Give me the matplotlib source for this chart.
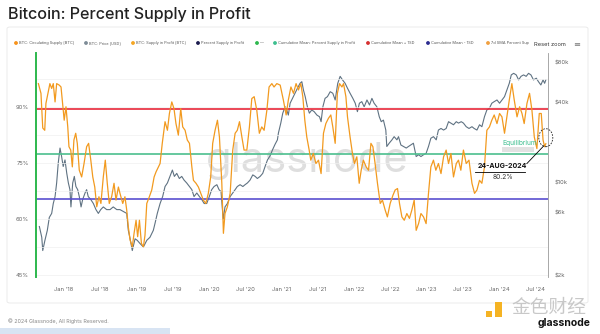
import numpy as np
import pandas as pd
import matplotlib
matplotlib.use("Agg")
import matplotlib.pyplot as plt
import matplotlib.dates as mdates
from matplotlib.patches import Ellipse, Rectangle, FancyBboxPatch
from matplotlib.transforms import IdentityTransform

plt.rcParams['font.family'] = ['Inter', 'DejaVu Sans']

# percent supply in profit (7d SMA), %
pct_dates = [
    "2017-08-25", "2017-09-07", "2017-09-16", "2017-09-26", "2017-10-02", "2017-10-14", "2017-10-22",
    "2017-10-31", "2017-11-08", "2017-11-17", "2017-11-25", "2017-12-08", "2017-12-17", "2017-12-25",
    "2018-01-02", "2018-01-11", "2018-01-20", "2018-01-26", "2018-02-04", "2018-02-12", "2018-02-20",
    "2018-03-01", "2018-03-09", "2018-03-19", "2018-03-31", "2018-04-12", "2018-04-25", "2018-05-05",
    "2018-05-16", "2018-05-26", "2018-06-05", "2018-06-15", "2018-06-26", "2018-07-06", "2018-07-18",
    "2018-07-28", "2018-08-07", "2018-08-17", "2018-08-29", "2018-09-10", "2018-09-20", "2018-10-02",
    "2018-10-10", "2018-10-24", "2018-11-04", "2018-11-13", "2018-11-21", "2018-11-30", "2018-12-11",
    "2018-12-20", "2018-12-30", "2019-01-07", "2019-01-16", "2019-01-26", "2019-02-05", "2019-02-13",
    "2019-02-22", "2019-03-07", "2019-03-19", "2019-03-31", "2019-04-10", "2019-04-30", "2019-05-11",
    "2019-05-25", "2019-06-06", "2019-06-16", "2019-06-28", "2019-07-09", "2019-07-19", "2019-07-31",
    "2019-08-12", "2019-08-22", "2019-09-03", "2019-09-14", "2019-09-25", "2019-10-07", "2019-10-15",
    "2019-10-28", "2019-11-09", "2019-11-21", "2019-12-04", "2019-12-16", "2019-12-29", "2020-01-10",
    "2020-01-20", "2020-02-01", "2020-02-13", "2020-02-23", "2020-03-06", "2020-03-14", "2020-03-22",
    "2020-04-03", "2020-04-17", "2020-04-30", "2020-05-12", "2020-05-23", "2020-06-03", "2020-06-15",
    "2020-06-26", "2020-07-10", "2020-07-23", "2020-08-04", "2020-08-16", "2020-08-29", "2020-09-11",
    "2020-09-23", "2020-10-05", "2020-10-19", "2020-10-30", "2020-11-13", "2020-11-24", "2020-12-08",
    "2020-12-25", "2021-01-10", "2021-01-24", "2021-02-04", "2021-02-17", "2021-03-02", "2021-03-15",
    "2021-03-27", "2021-04-08", "2021-04-18", "2021-04-28", "2021-05-08", "2021-05-20", "2021-05-28",
    "2021-06-10", "2021-06-23", "2021-07-06", "2021-07-19", "2021-07-31", "2021-08-12", "2021-08-25",
    "2021-09-06", "2021-09-16", "2021-09-28", "2021-10-09", "2021-10-20", "2021-11-01", "2021-11-09",
    "2021-11-21", "2021-11-29", "2021-12-12", "2021-12-24", "2022-01-03", "2022-01-15", "2022-01-27",
    "2022-02-06", "2022-02-17", "2022-03-03", "2022-03-15", "2022-03-27", "2022-04-06", "2022-04-17",
    "2022-04-29", "2022-05-13", "2022-05-24", "2022-06-07", "2022-06-18", "2022-07-02", "2022-07-16",
    "2022-07-27", "2022-08-08", "2022-08-18", "2022-08-30", "2022-09-11", "2022-09-24", "2022-10-07",
    "2022-10-19", "2022-10-31", "2022-11-10", "2022-11-22", "2022-12-04", "2022-12-17", "2022-12-30",
    "2023-01-11", "2023-01-23", "2023-02-05", "2023-02-17", "2023-03-02", "2023-03-15", "2023-03-28",
    "2023-04-10", "2023-04-22", "2023-05-04", "2023-05-17", "2023-05-31", "2023-06-11", "2023-06-23",
    "2023-07-06", "2023-07-20", "2023-08-03", "2023-08-18", "2023-08-31", "2023-09-12", "2023-09-25",
    "2023-10-07", "2023-10-20", "2023-11-01", "2023-11-14", "2023-11-26", "2023-12-08", "2023-12-22",
    "2024-01-04", "2024-01-16", "2024-01-29", "2024-02-10", "2024-02-22", "2024-03-06", "2024-03-18",
    "2024-04-01", "2024-04-14", "2024-04-26", "2024-05-07", "2024-05-21", "2024-06-03", "2024-06-15",
    "2024-06-27", "2024-07-10", "2024-07-22", "2024-08-01", "2024-08-10", "2024-08-18", "2024-08-24",
]
pct_values = [
    96.3, 93.7, 84.4, 83.8, 91.0, 94.1, 96.3,
    95.0, 96.3, 91.4, 96.3, 95.9, 95.4, 91.0,
    86.5, 90.1, 84.7, 79.4, 78.5, 74.0, 81.2,
    83.0, 80.3, 73.1, 71.3, 74.9, 79.4, 80.3,
    75.8, 71.3, 68.6, 63.3, 66.0, 64.2, 71.3,
    75.8, 69.6, 64.2, 66.0, 69.6, 65.1, 68.6,
    66.9, 64.2, 66.0, 62.4, 57.9, 54.4, 52.6,
    56.2, 59.7, 55.3, 59.7, 53.5, 52.6, 55.7,
    64.2, 66.0, 67.8, 71.3, 72.7, 74.9, 80.3,
    86.1, 83.8, 88.3, 91.4, 89.6, 85.6, 82.5,
    89.6, 84.7, 83.8, 81.2, 80.3, 74.0, 70.4,
    69.6, 68.6, 66.9, 65.1, 64.2, 66.9, 71.3,
    80.3, 83.8, 86.5, 82.0, 69.6, 56.2, 61.5,
    63.3, 66.9, 78.5, 83.0, 83.8, 86.1, 82.0,
    78.5, 78.5, 84.7, 92.3, 92.8, 89.2, 83.0,
    84.7, 83.8, 89.2, 95.4, 96.3, 95.4, 96.3,
    95.9, 91.9, 87.9, 91.9, 95.4, 93.7, 96.3,
    94.6, 96.3, 92.8, 86.5, 82.0, 78.5, 75.8,
    77.6, 74.9, 75.8, 72.2, 83.0, 85.6, 87.0,
    87.9, 84.7, 80.3, 93.7, 96.3, 95.4, 96.3,
    92.8, 87.4, 82.0, 77.6, 74.9, 76.7, 69.6,
    73.1, 75.8, 74.0, 73.1, 80.3, 79.4, 74.9,
    69.6, 64.2, 65.1, 62.4, 60.6, 64.2, 66.4,
    67.8, 68.2, 64.2, 60.6, 59.7, 61.5, 60.2,
    62.4, 65.1, 57.0, 58.8, 61.5, 60.6, 58.8,
    66.9, 74.0, 75.8, 73.1, 74.9, 72.2, 76.7,
    78.5, 74.9, 77.6, 71.3, 74.9, 75.8, 73.1,
    78.5, 74.9, 75.8, 69.6, 66.9, 67.8, 70.4,
    69.6, 74.0, 83.8, 84.7, 86.5, 87.9, 85.6,
    88.3, 87.4, 83.0, 87.4, 91.9, 96.3, 91.9,
    87.4, 90.1, 88.3, 85.6, 91.0, 93.7, 89.2,
    82.0, 78.9, 88.3, 88.3, 81.2, 79.4, 80.2,
]

# BTC price, USD
price_dates = [
    "2017-08-30", "2017-09-11", "2017-09-16", "2017-09-27", "2017-10-09", "2017-10-19", "2017-10-31",
    "2017-11-08", "2017-11-17", "2017-11-25", "2017-12-03", "2017-12-12", "2017-12-20", "2017-12-28",
    "2018-01-06", "2018-01-15", "2018-01-23", "2018-01-31", "2018-02-05", "2018-02-14", "2018-02-22",
    "2018-03-02", "2018-03-11", "2018-03-19", "2018-03-28", "2018-04-05", "2018-04-17", "2018-04-25",
    "2018-05-03", "2018-05-16", "2018-05-29", "2018-06-11", "2018-06-23", "2018-07-05", "2018-07-18",
    "2018-08-04", "2018-08-21", "2018-09-06", "2018-09-24", "2018-10-10", "2018-10-27", "2018-11-13",
    "2018-11-21", "2018-11-30", "2018-12-11", "2018-12-25", "2019-01-05", "2019-01-19", "2019-02-05",
    "2019-02-22", "2019-03-10", "2019-03-27", "2019-04-05", "2019-04-16", "2019-04-30", "2019-05-13",
    "2019-05-25", "2019-06-06", "2019-06-19", "2019-07-01", "2019-07-11", "2019-07-23", "2019-08-05",
    "2019-08-17", "2019-08-29", "2019-09-11", "2019-09-25", "2019-10-07", "2019-10-18", "2019-11-01",
    "2019-11-14", "2019-11-26", "2019-12-08", "2019-12-21", "2020-01-03", "2020-01-15", "2020-01-27",
    "2020-02-10", "2020-02-21", "2020-03-02", "2020-03-13", "2020-03-22", "2020-04-03", "2020-04-17",
    "2020-04-30", "2020-05-12", "2020-05-23", "2020-06-06", "2020-06-20", "2020-07-01", "2020-07-13",
    "2020-07-26", "2020-08-09", "2020-08-21", "2020-09-01", "2020-09-15", "2020-09-28", "2020-10-10",
    "2020-10-22", "2020-11-04", "2020-11-16", "2020-11-29", "2020-12-11", "2020-12-16", "2020-12-28",
    "2021-01-07", "2021-01-19", "2021-01-27", "2021-02-04", "2021-02-13", "2021-02-25", "2021-03-10",
    "2021-03-22", "2021-04-04", "2021-04-13", "2021-04-21", "2021-04-30", "2021-05-11", "2021-05-21",
    "2021-06-02", "2021-06-14", "2021-06-28", "2021-07-11", "2021-07-19", "2021-07-28", "2021-08-08",
    "2021-08-20", "2021-09-03", "2021-09-16", "2021-09-28", "2021-10-11", "2021-10-23", "2021-11-04",
    "2021-11-17", "2021-11-29", "2021-12-12", "2021-12-26", "2022-01-07", "2022-01-18", "2022-01-28",
    "2022-02-09", "2022-02-21", "2022-03-07", "2022-03-20", "2022-04-01", "2022-04-12", "2022-04-26",
    "2022-05-08", "2022-05-18", "2022-05-29", "2022-06-10", "2022-06-15", "2022-06-27", "2022-07-11",
    "2022-07-22", "2022-08-05", "2022-08-13", "2022-08-25", "2022-09-07", "2022-09-21", "2022-10-02",
    "2022-10-14", "2022-10-27", "2022-11-10", "2022-11-22", "2022-12-04", "2022-12-17", "2022-12-30",
    "2023-01-11", "2023-01-23", "2023-02-05", "2023-02-19", "2023-03-02", "2023-03-15", "2023-03-28",
    "2023-04-10", "2023-04-22", "2023-05-04", "2023-05-17", "2023-05-31", "2023-06-11", "2023-06-25",
    "2023-07-06", "2023-07-20", "2023-08-03", "2023-08-18", "2023-08-29", "2023-09-12", "2023-09-25",
    "2023-10-07", "2023-10-20", "2023-11-01", "2023-11-14", "2023-11-26", "2023-12-08", "2023-12-22",
    "2024-01-04", "2024-01-16", "2024-01-29", "2024-02-10", "2024-02-22", "2024-03-03", "2024-03-15",
    "2024-03-28", "2024-04-09", "2024-04-21", "2024-05-04", "2024-05-17", "2024-05-29", "2024-06-10",
    "2024-06-23", "2024-07-07", "2024-07-18", "2024-07-30", "2024-08-10", "2024-08-18", "2024-08-24",
]
price_values = [
    4700, 3900, 3100, 3700, 4400, 5500, 5900,
    7000, 7900, 10000, 14100, 18300, 15800, 13300,
    14900, 11800, 10000, 8900, 6600, 10000, 11200,
    9400, 8900, 7900, 6600, 7500, 8400, 8900,
    7900, 7500, 7000, 6300, 5900, 6300, 6600,
    6300, 6300, 6600, 6300, 6300, 6100, 5900,
    4400, 3800, 3100, 3800, 3700, 3500, 3300,
    3700, 3900, 4400, 5000, 5900, 7000, 7900,
    9400, 10000, 11200, 12500, 11200, 11800, 10800,
    11200, 10500, 10000, 9400, 8900, 7900, 8400,
    7900, 7500, 7000, 7000, 7900, 8900, 9400,
    9700, 8900, 8600, 5300, 6600, 7000, 7900,
    8400, 8900, 9400, 9700, 9400, 9700, 10000,
    10500, 11500, 11200, 10800, 11200, 11800, 13300,
    14900, 16000, 17700, 19500, 21100, 23700, 28200,
    33500, 37400, 35400, 32400, 39800, 43300, 47300,
    51600, 56200, 57800, 50100, 44600, 37400, 33500,
    35400, 34400, 32400, 31500, 28900, 37400, 43300,
    44600, 48600, 47300, 42100, 56200, 63400, 59600,
    56200, 51600, 47300, 43300, 39800, 34400, 39800,
    40900, 37400, 42100, 38600, 43300, 39800, 37400,
    31500, 28900, 29700, 25000, 18800, 19900, 21100,
    22300, 21100, 22300, 19300, 18800, 18300, 18800,
    19300, 19900, 15800, 16300, 15800, 16300, 16700,
    18800, 21700, 22300, 21100, 25000, 25700, 25000,
    25700, 28900, 28200, 27400, 28900, 28200, 28900,
    28200, 26500, 25700, 26500, 25700, 25000, 27400,
    26500, 31500, 35400, 36500, 39800, 40900, 42100,
    39800, 42100, 44600, 50100, 56200, 65000, 66800,
    65000, 59600, 63400, 65000, 63400, 66800, 65000,
    59600, 61400, 57800, 54600, 59600, 56200, 59600,
]

cum_mean = 77.5
mean_plus_1sd = 89.5
mean_minus_1sd = 65.4

pct_ticks = [45, 60, 75, 90]
pct_labels = ["45%", "60%", "75%", "90%"]
price_ticks = [2000, 6000, 10000, 40000, 80000]
price_labels = ["$2k", "$6k", "$10k", "$40k", "$80k"]

legend_items = [
    ("BTC: Circulating Supply [BTC]", "#f7931a"),
    ("BTC: Price [USD]", "#7d8b97"),
    ("BTC: Supply in Profit [BTC]", "#f5a623"),
    ("Percent Supply in Profit", "#1a1a4e"),
    ("\u2014", "#2db84d"),
    ("Cumulative Mean: Percent Supply in Profit", "#3dbf8f"),
    ("Cumulative Mean + 1SD", "#d62f2f"),
    ("Cumulative Mean - 1SD", "#2b2b8f"),
    ("7d SMA Percent Sup", "#f0a040"),
]

ORANGE = "#f29a1f"
GRAY = "#5f7282"
RED = "#e8283a"
GREEN = "#4cbf8e"
PURPLE = "#5a4fd0"

pct_x = pd.to_datetime(pct_dates)
price_x = pd.to_datetime(price_dates)

fig = plt.figure(figsize=(6, 3.34), dpi=100)
fig.patch.set_facecolor("white")

# container box
fig.patches.append(FancyBboxPatch((7 / 600, 1 - 303 / 334), 581 / 600, 276 / 334,
                                  boxstyle="round,pad=0,rounding_size=0.005",
                                  transform=fig.transFigure, facecolor="white",
                                  edgecolor="#e8e8e8", lw=0.6, zorder=-5))

fig.text(8 / 600, 1 - 15 / 334, "Bitcoin: Percent Supply in Profit", fontsize=11.6,
         fontweight="medium", color="#222222", ha="left", va="center")

# legend row
leg_x = [16, 86, 133, 198, 257, 275, 368, 428, 488]
for (name, col), lx in zip(legend_items, leg_x):
    fig.patches.append(Ellipse((lx / 600, 1 - 43 / 334), 2.4 / 600, 2.4 / 334,
                               transform=fig.transFigure, color=col))
    fig.text((lx + 3) / 600, 1 - 43 / 334, name, fontsize=2.8, color="#555555",
             ha="left", va="center")
fig.text(534 / 600, 1 - 45 / 334, "Reset zoom", fontsize=4.1, color="#333333",
         ha="left", va="center")
fig.text(577 / 600, 1 - 44 / 334, "\u2261", fontsize=6, color="#777777",
         ha="center", va="center")

ax2 = fig.add_axes([36 / 600, 1 - 277 / 334, 512 / 600, 224 / 334])
ax = ax2.twinx()
ax.set_zorder(ax2.get_zorder() + 1)
ax.patch.set_visible(False)

# price on the right (log)
ax2.plot(price_x, price_values, color=GRAY, lw=0.8, zorder=2)
ax2.set_yscale("log")
ax2.set_ylim(1960, 95000)
ax2.yaxis.tick_right()
ax2.yaxis.set_label_position("right")
ax2.set_yticks(price_ticks)
ax2.set_yticklabels(price_labels)
ax2.yaxis.set_minor_locator(matplotlib.ticker.NullLocator())
ax2.tick_params(axis="y", length=0, labelsize=4.2, labelcolor="#666666", pad=5)

ax2.text(0.53, 0.52, "glassnode", transform=ax2.transAxes, fontsize=30, color="#dedede",
         ha="center", va="center", zorder=0)

# percent on the left
ax.yaxis.tick_left()
ax.yaxis.set_label_position("left")
ax.axhline(mean_plus_1sd, color=RED, lw=1.2, zorder=2)
ax.axhline(cum_mean, color=GREEN, lw=1.2, zorder=2)
ax.axhline(mean_minus_1sd, color=PURPLE, lw=1.2, zorder=2)
ax.plot(pct_x, pct_values, color=ORANGE, lw=0.9, zorder=3)
ax.set_ylim(44.5, 104.5)
ax.set_yticks(pct_ticks)
ax.set_yticklabels(pct_labels)
ax.set_yticks([52.5, 67.5, 82.5, 97.5], minor=True)
ax.tick_params(axis="y", which="both", length=0, labelsize=4.2, labelcolor="#666666", pad=5)
ax2.grid(False)
for yv in list(pct_ticks) + [52.5, 67.5, 82.5, 97.5]:
    ax.axhline(yv, color="#f0f0f0", lw=0.5, zorder=0)

xmin, xmax = pd.Timestamp("2017-08-13"), pd.Timestamp("2024-09-04")
ax.set_xlim(xmin, xmax)
ax2.set_xlim(xmin, xmax)
ax2.xaxis.set_major_locator(mdates.MonthLocator(bymonth=[1, 7]))
ax2.xaxis.set_major_formatter(mdates.DateFormatter("%b '%y"))
ax2.tick_params(axis="x", length=0, labelsize=4.2, labelcolor="#666666", pad=7)
ax.tick_params(axis="x", length=0, labelbottom=False)

for a in (ax, ax2):
    for s in ("top", "bottom"):
        a.spines[s].set_visible(False)
ax.spines["right"].set_visible(False)
ax2.spines["left"].set_visible(False)
ax.spines["left"].set_color("#2db84d")
ax.spines["left"].set_linewidth(1.4)
ax2.spines["right"].set_color("#9a9a9a")
ax2.spines["right"].set_linewidth(0.6)

# equilibrium label
ax.text(0.91, cum_mean + 2.8, "Equilibrium", transform=ax.get_yaxis_transform(),
        fontsize=4.8, color="#3dbf8f", ha="left", va="center")
ax.add_patch(Rectangle((0.91, cum_mean + 0.5), 0.062, 1.3, transform=ax.get_yaxis_transform(),
                       facecolor="#e2e2e2", edgecolor="none", zorder=1))

# latest-value annotation
last_x, last_y = pct_x[-1], pct_values[-1]
fig.canvas.draw()
px, py = ax.transData.transform((mdates.date2num(last_x), last_y))
ax.annotate("", xy=(last_x, last_y), xytext=(-21, -22), textcoords="offset pixels",
            arrowprops=dict(arrowstyle="-", color="black", lw=0.6))
ax.plot([px - 71, px - 21], [py - 28, py - 28], color="black", lw=0.6,
        transform=IdentityTransform(), zorder=4)
ax.text(px - 43, py - 25, "24-AUG-2024", transform=IdentityTransform(), fontsize=5,
        fontweight="bold", color="#111111", ha="center", va="bottom")
ax.text(px - 43, py - 30, f"{last_y:.1f}%", transform=IdentityTransform(), fontsize=4.8,
        color="#333333", ha="center", va="top")
fig.patches.append(Ellipse((px, py + 6), 14, 18, transform=IdentityTransform(), fill=False,
                           edgecolor="#222222", lw=0.6, ls=(0, (2, 1.5))))

# footer
fig.text(8 / 600, 1 - 321 / 334, "\u00a9 2024 Glassnode, All Rights Reserved.", fontsize=3.8,
         color="#888888", ha="left", va="center")
fig.patches.append(Rectangle((0, 0), 170 / 600, 6 / 334, transform=fig.transFigure,
                             facecolor="#d8e4f3", edgecolor="none"))
fig.patches.append(Rectangle((486 / 600, 1 - 317 / 334), 6 / 600, 6 / 334,
                             transform=fig.transFigure, facecolor="#f5b323", edgecolor="none"))
fig.patches.append(Rectangle((495 / 600, 1 - 317 / 334), 7 / 600, 15 / 334,
                             transform=fig.transFigure, facecolor="#f5b323", edgecolor="none"))
fig.text(549 / 600, 1 - 307 / 334, "金色财经", fontsize=13.5, color="#c8c8c8", ha="center",
         va="center", family=["Noto Sans CJK SC", "DejaVu Sans"])
fig.text(564 / 600, 1 - 323 / 334, "glassnode", fontsize=7.5, color="#111111", ha="center",
         va="center", fontweight="bold")

fig.savefig("out.png", dpi=100)
